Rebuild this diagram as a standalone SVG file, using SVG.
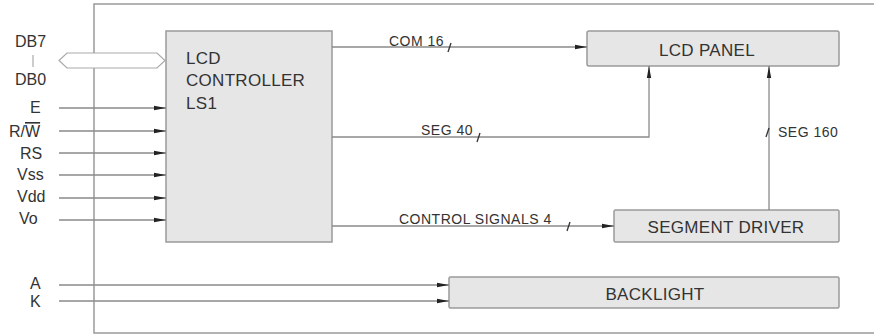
<svg xmlns="http://www.w3.org/2000/svg" width="874" height="335" viewBox="0 0 874 335">
<style>
.frame{fill:none;stroke:#9a9a9a;stroke-width:1.5}
.box{fill:#e6e6e6;stroke:#9a9a9a;stroke-width:1.5}
.ln{fill:none;stroke:#8a8a8a;stroke-width:1.3}
.sl{fill:none;stroke:#333;stroke-width:1.3}
text{font-family:"Liberation Sans",Arial,sans-serif;fill:#333}
.bl{font-size:17px;letter-spacing:0.3px}
.pl{font-size:16px}
.sg{font-size:14px;letter-spacing:0.5px}
</style>
<defs>
<marker id="ah" markerUnits="userSpaceOnUse" markerWidth="12" markerHeight="6" refX="12" refY="3" orient="auto">
<path d="M0,0.8 L12,3 L0,5.2 Z" fill="#222"/>
</marker>
</defs>
<rect width="874" height="335" fill="#fff"/>
<g id="frame">
<polyline class="frame" points="874,4 94,4 94,333 874,333"/>
</g>
<g id="pins">
<text class="pl" x="15" y="47">DB7</text>
<line x1="33" y1="55" x2="33" y2="67" stroke="#aaa" stroke-width="1.2"/>
<text class="pl" x="15" y="85">DB0</text>
<text class="pl" x="30" y="113">E</text>
<text class="pl" x="9" y="137">R/<tspan text-decoration="overline">W</tspan></text>
<text class="pl" x="20" y="159">RS</text>
<text class="pl" x="17" y="180">Vss</text>
<text class="pl" x="17" y="202">Vdd</text>
<text class="pl" x="19" y="224">Vo</text>
<text class="pl" x="30" y="289">A</text>
<text class="pl" x="30" y="307">K</text>
</g>
<g id="lcd-controller">
<rect class="box" x="166" y="31" width="166" height="211"/>
<text class="bl" x="186" y="64">LCD</text>
<text class="bl" x="186" y="86">CONTROLLER</text>
<text class="bl" x="186" y="109">LS1</text>
</g>
<g id="lcd-panel">
<rect class="box" x="587" y="31" width="252" height="35" rx="2"/>
<text class="bl" x="707" y="56" text-anchor="middle">LCD PANEL</text>
</g>
<g id="segment-driver">
<rect class="box" x="614" y="210" width="225" height="32" rx="1.5"/>
<text class="bl" x="726" y="233" text-anchor="middle">SEGMENT DRIVER</text>
</g>
<g id="backlight">
<rect class="box" x="449" y="277" width="390" height="31" rx="1.5"/>
<text class="bl" x="655" y="300" text-anchor="middle">BACKLIGHT</text>
</g>
<g id="connectors">
<polygon points="59,60.5 67,53 157,53 165,60.5 157,68 67,68" fill="#fff" stroke="#aaa" stroke-width="1.2"/>
<line class="ln" x1="59" y1="108" x2="166" y2="108" marker-end="url(#ah)"/>
<line class="ln" x1="59" y1="131" x2="166" y2="131" marker-end="url(#ah)"/>
<line class="ln" x1="59" y1="153" x2="166" y2="153" marker-end="url(#ah)"/>
<line class="ln" x1="59" y1="175" x2="166" y2="175" marker-end="url(#ah)"/>
<line class="ln" x1="59" y1="198" x2="166" y2="198" marker-end="url(#ah)"/>
<line class="ln" x1="59" y1="220" x2="166" y2="220" marker-end="url(#ah)"/>
<line class="ln" x1="59" y1="285" x2="449" y2="285" marker-end="url(#ah)"/>
<line class="ln" x1="59" y1="301" x2="449" y2="301" marker-end="url(#ah)"/>
<line class="ln" x1="332" y1="47" x2="587" y2="47" marker-end="url(#ah)"/>
<polyline class="ln" points="332,137 649,137 649,66" marker-end="url(#ah)"/>
<line class="ln" x1="769" y1="210" x2="769" y2="66" marker-end="url(#ah)"/>
<line class="ln" x1="332" y1="226" x2="614" y2="226" marker-end="url(#ah)"/>
<line class="sl" x1="448" y1="52" x2="451" y2="43"/>
<line class="sl" x1="477" y1="142" x2="480" y2="133"/>
<line class="sl" x1="567" y1="231" x2="570" y2="222"/>
<line class="sl" x1="766" y1="137" x2="769" y2="128"/>
<text class="sg" x="389" y="46">COM 16</text>
<text class="sg" x="421" y="135">SEG 40</text>
<text class="sg" x="399" y="224">CONTROL SIGNALS 4</text>
<text class="sg" x="778" y="137">SEG 160</text>
</g>
</svg>
